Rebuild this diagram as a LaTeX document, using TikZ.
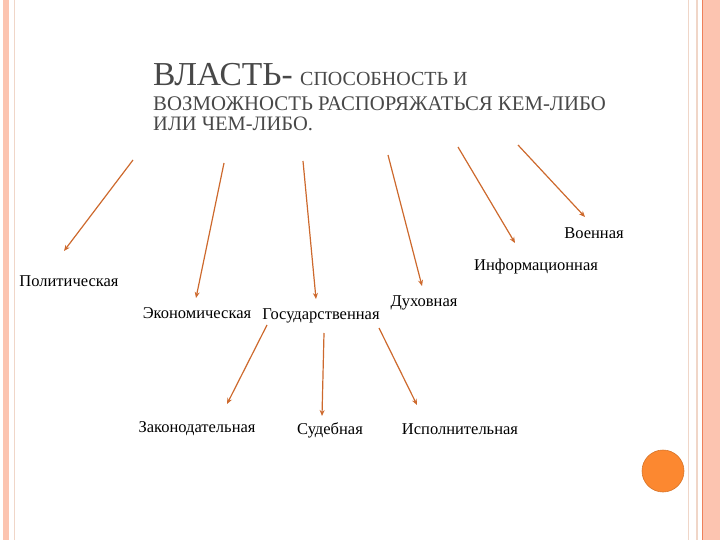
\documentclass[tikz,border=0pt]{standalone}
\usepackage{fontspec}
\setmainfont{Liberation Serif}
\usetikzlibrary{arrows.meta}
\definecolor{salmon}{RGB}{252,196,176}
\definecolor{paleline}{RGB}{240,214,200}
\definecolor{framec}{RGB}{238,128,90}
\definecolor{arrowc}{RGB}{205,105,45}
\definecolor{dotc}{RGB}{252,136,48}
\definecolor{titlec}{RGB}{72,72,72}

\begin{document}
\begin{tikzpicture}[x=1pt,y=-1pt]

\tikzstyle{every node}=[font=\fontsize{16.5}{19}\selectfont, inner sep=0pt]
\tikzstyle{arr}=[-{Stealth[length=6pt,width=5pt]}, arrowc, line width=1.2pt]

\useasboundingbox (0,0) rectangle (720,540);

% frame
\fill[salmon] (3,0) rectangle (9,540);
\draw[paleline, line width=0.8pt] (14,0) -- (14,540);
\draw[paleline, line width=0.8pt] (688,0) -- (688,540);
\draw[paleline, line width=1.2pt] (697,0) -- (697,540);
\fill[salmon] (702,0) rectangle (720,540);
\draw[framec, line width=0.8pt] (702,0) -- (702,540);
\fill[dotc, draw=dotc!85!black, line width=0.6pt] (663,471) circle (21);

% title
\node [anchor=base west, text=titlec, font=\fontsize{33.5}{36}\selectfont] (vlast) at (153,86) {ВЛАСТЬ-};
\node [anchor=base west, text=titlec, font=\fontsize{20}{22}\selectfont] (sposob) at (300,86) {СПОСОБНОСТЬ И};
\node [anchor=base west, text=titlec, font=\fontsize{20.8}{23}\selectfont] (vozm) at (153,111) {ВОЗМОЖНОСТЬ РАСПОРЯЖАТЬСЯ КЕМ-ЛИБО};
\node [anchor=base west, text=titlec, font=\fontsize{20.5}{23}\selectfont] (ili) at (153,131) {ИЛИ ЧЕМ-ЛИБО.};

% kinds
\node (polit) at (69,281) {Политическая};
\node (ekon) at (197,313) {Экономическая};
\node (gos) at (321,316) {Государственная};
\node (duh) at (424,303) {Духовная};
\node (inform) at (536,267) {Информационная};
\node (voen) at (594,233) {Военная};

% branches
\node (zakon) at (197,429) {Законодательная};
\node (sud) at (330,430) {Судебная};
\node (ispol) at (460,429) {Исполнительная};

% 1
\coordinate (a1) at (133,160); \coordinate (b1) at (64,251);
\draw[arr] (a1) -- (b1);
% 2
\coordinate (a2) at (224,163); \coordinate (b2) at (196,298);
\draw[arr] (a2) -- (b2);
% 3
\coordinate (a3) at (303,161); \coordinate (b3) at (316,299);
\draw[arr] (a3) -- (b3);
% 4
\coordinate (a4) at (388,155); \coordinate (b4) at (422,286);
\draw[arr] (a4) -- (b4);
% 5
\coordinate (a5) at (458,147); \coordinate (b5) at (515,243);
\draw[arr] (a5) -- (b5);
% 6
\coordinate (a6) at (518,145); \coordinate (b6) at (585,217);
\draw[arr] (a6) -- (b6);

% 7
\coordinate (a7) at (267,325); \coordinate (b7) at (227,404);
\draw[arr] (a7) -- (b7);
% 8
\coordinate (a8) at (324,333); \coordinate (b8) at (322,416);
\draw[arr] (a8) -- (b8);
% 9
\coordinate (a9) at (379,328); \coordinate (b9) at (417,405);
\draw[arr] (a9) -- (b9);

\end{tikzpicture}
\end{document}
